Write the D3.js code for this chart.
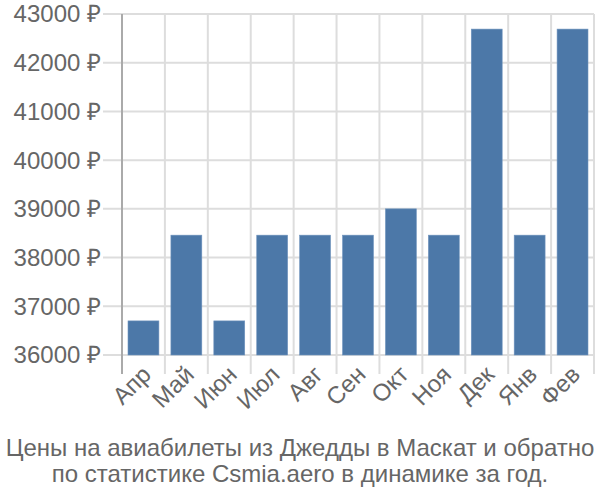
<!DOCTYPE html>
<html>
<head>
<meta charset="utf-8">
<script src="https://cdn.jsdelivr.net/npm/d3@7"></script>
<style>
  body { margin: 0; background: white; }
  svg { display: block; font-family: "Liberation Sans", Arial, sans-serif; }
</style>
</head>
<body>
<div id="chart"></div>
<script>
var
  months = ["Апр", "Май", "Июн", "Июл", "Авг", "Сен", "Окт", "Ноя", "Дек", "Янв", "Фев"],
  prices = [36700, 38460, 36700, 38460, 38460, 38460, 39000, 38460, 42690, 38460, 42690],
  yTicks = [36000, 37000, 38000, 39000, 40000, 41000, 42000, 43000],
  titleLines = [
    "Цены на авиабилеты из Джедды в Маскат и обратно",
    "по статистике Csmia.aero в динамике за год."
  ],

  WIDTH = 600,
  HEIGHT = 500,

  // plot area, in pixels
  PLOT_LEFT = 122,
  PLOT_RIGHT = 594,
  PLOT_TOP = 14,
  PLOT_BOTTOM = 355,

  // length of tick marks outside the plot
  TICK_LENGTH = 19,

  LABEL_FONT_SIZE = 24,

  BAR_COLOR = "#4c78a8",
  GRID_COLOR = "#dddddd",
  AXIS_COLOR = "#aaaaaa",
  TEXT_COLOR = "#666666";

function renderChart(){
  var
    svg = d3.select("#chart").append("svg")
      .attr("width", WIDTH)
      .attr("height", HEIGHT),
    x = d3.scaleBand()
      .domain(months)
      .range([PLOT_LEFT, PLOT_RIGHT])
      .paddingInner(0.28)
      .paddingOuter(0.14),
    y = d3.scaleLinear()
      .domain([36000, 43000])
      .range([PLOT_BOTTOM, PLOT_TOP]),
    step = x.step(),
    boundaries = d3.range(months.length + 1).map(function(i){
      return PLOT_LEFT + i * step;
    });

  svg.append("rect")
    .attr("width", WIDTH)
    .attr("height", HEIGHT)
    .attr("fill", "white");

  // horizontal grid lines, with tick stubs to the left
  svg.append("g").selectAll("line")
    .data(yTicks)
    .join("line")
    .attr("x1", PLOT_LEFT - TICK_LENGTH)
    .attr("x2", PLOT_RIGHT)
    .attr("y1", function(d){ return y(d); })
    .attr("y2", function(d){ return y(d); })
    .attr("stroke", GRID_COLOR)
    .attr("stroke-width", 2);

  // vertical grid lines at band edges, with tick stubs below
  svg.append("g").selectAll("line")
    .data(boundaries.slice(1))
    .join("line")
    .attr("x1", function(d){ return d; })
    .attr("x2", function(d){ return d; })
    .attr("y1", PLOT_TOP)
    .attr("y2", PLOT_BOTTOM + TICK_LENGTH)
    .attr("stroke", GRID_COLOR)
    .attr("stroke-width", 2);

  // y axis line
  svg.append("line")
    .attr("x1", PLOT_LEFT)
    .attr("x2", PLOT_LEFT)
    .attr("y1", PLOT_TOP)
    .attr("y2", PLOT_BOTTOM + TICK_LENGTH)
    .attr("stroke", AXIS_COLOR)
    .attr("stroke-width", 2);

  svg.append("g").selectAll("rect")
    .data(prices)
    .join("rect")
    .attr("x", function(d, i){ return x(months[i]); })
    .attr("y", function(d){ return y(d); })
    .attr("width", x.bandwidth())
    .attr("height", function(d){ return PLOT_BOTTOM - y(d); })
    .attr("fill", BAR_COLOR)
    .attr("stroke", "#6f93bd")
    .attr("stroke-width", 0.6);

  // y tick labels
  svg.append("g").selectAll("text")
    .data(yTicks)
    .join("text")
    .attr("x", PLOT_LEFT - TICK_LENGTH - 2)
    .attr("y", function(d){ return y(d); })
    .attr("dy", "0.35em")
    .attr("text-anchor", "end")
    .attr("fill", TEXT_COLOR)
    .attr("font-size", LABEL_FONT_SIZE)
    .text(function(d){ return d + " ₽"; });

  // x tick labels, rotated
  svg.append("g").selectAll("text")
    .data(months)
    .join("text")
    .attr("transform", function(d){
      return "translate(" + (x(d) + x.bandwidth() / 2 + 9) + "," + (PLOT_BOTTOM + 21) + ") rotate(-45)";
    })
    .attr("text-anchor", "end")
    .attr("fill", TEXT_COLOR)
    .attr("font-size", LABEL_FONT_SIZE)
    .text(function(d){ return d; });

  svg.append("g").selectAll("text")
    .data(titleLines)
    .join("text")
    .attr("x", WIDTH / 2)
    .attr("y", function(d, i){ return 456 + i * 26; })
    .attr("text-anchor", "middle")
    .attr("fill", TEXT_COLOR)
    .attr("font-size", LABEL_FONT_SIZE)
    .text(function(d){ return d; });
}

renderChart();
</script>
</body>
</html>
